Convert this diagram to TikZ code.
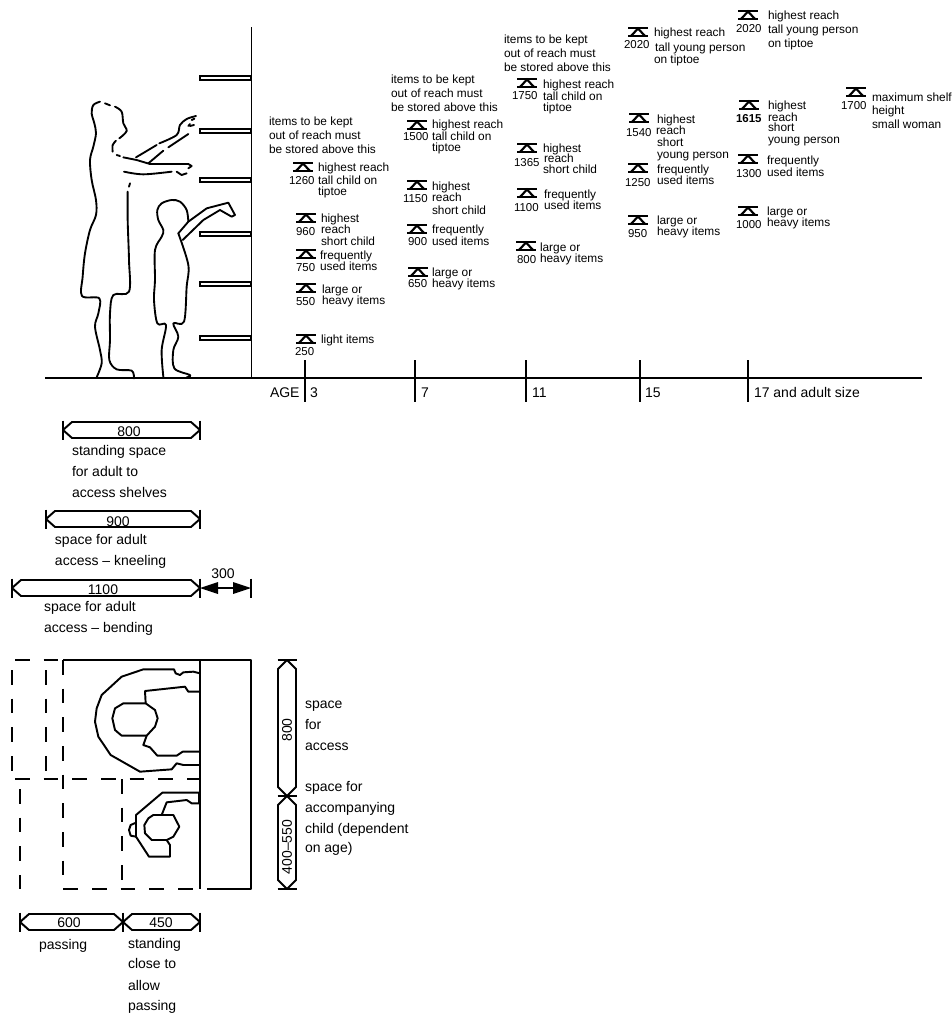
\documentclass[tikz,border=0pt]{standalone}
\usepackage{fontspec}
\setmainfont{Liberation Sans}
\newcounter{tn}
\tikzset{
 lbl/.style={anchor=base west,inner sep=0pt,outer sep=0pt,text=black},
 smalltxt/.style={lbl,font=\fontsize{8.9}{10}\selectfont},
 bigtxt/.style={lbl,font=\fontsize{10.5}{12}\selectfont},
 numtxt/.style={lbl,font=\fontsize{8.6}{10}\selectfont},
 ln/.style={line width=1.45pt,line join=round,black},
 dsh/.style={line width=1.45pt,dash pattern=on 11pt off 10.5pt},
 sil/.style={line width=1.4pt,line join=round,line cap=round,black},
 plan/.style={shift={(0,640)},x=.25pt,y=-.25pt},
 figs/.style={shift={(60,20)},x=.25pt,y=-.25pt},
}
\newcommand{\sm}[3]{\stepcounter{tn}\node[smalltxt] (t\thetn) at (#1,#2) {#3};}
\newcommand{\nm}[3]{\stepcounter{tn}\node[numtxt] (t\thetn) at (#1,#2) {#3};}
\newcommand{\bg}[3]{\stepcounter{tn}\node[bigtxt] (t\thetn) at (#1,#2) {#3};}
\newcommand{\bc}[3]{\stepcounter{tn}\node[bigtxt,anchor=base] (t\thetn) at (#1,#2) {#3};}
\newcommand{\cur}[1]{\draw[sil] plot[smooth,tension=.55] coordinates {#1};}
% level mark: x left, y top
\newcommand{\mk}[2]{%
 \draw[line width=1.8pt,line cap=butt] (#1,{#2+1}) -- ({#1+20},{#2+1});
 \draw[line width=1.8pt,line cap=butt] ({#1},{#2+9}) -- ({#1+20},{#2+9});
 \draw[line width=1.6pt,line join=miter] ({#1+3},{#2+9}) -- ({#1+10},{#2+1.5}) -- ({#1+17},{#2+9});}
% horizontal dimension bar
\newcommand{\hd}[3]{%
 \draw[ln] ({#1+9},{#3-8}) -- ({#2-9},{#3-8}) -- (#2,#3) -- ({#2-9},{#3+8}) -- ({#1+9},{#3+8}) -- (#1,#3) -- cycle;}
\newcommand{\htk}[2]{\draw[ln] (#1,{#2-9.5}) -- (#1,{#2+9.5});}
\newcommand{\vtk}[2]{\draw[ln] ({#1-9.5},#2) -- ({#1+9.5},#2);}
\newcommand{\vd}[3]{%
 \draw[ln] ({#3-9},{#1+9}) -- ({#3-9},{#2-9}) -- (#3,#2) -- ({#3+9},{#2-9}) -- ({#3+9},{#1+9}) -- (#3,#1) -- cycle;}
\begin{document}
\begin{tikzpicture}[x=.75pt,y=-.75pt]
\useasboundingbox (0,0) rectangle (952,1022);
% ground and wall
\draw[ln] (45,378) -- (922,378);
\draw[ln] (251.5,27) -- (251.5,378);
\foreach \y in {78,131,180,234,284,338}
  \draw[line width=1.05pt] (200,{\y-2}) rectangle (251,{\y+2});
\foreach \x in {305,415,526,640,748}
  \draw[ln] (\x,360) -- (\x,402);
\bg{270}{397}{AGE}\bg{310}{397}{3}\bg{421}{397}{7}\bg{532}{397}{11}\bg{645}{397}{15}\bg{754}{397}{17 and adult size}
% figures
\begin{scope}[figs]
\cur{(120,245) (100,255) (95,280) (103,310) (108,340) (100,380) (90,420) (95,480) (108,540) (108,585) (90,630) (75,700) (68,770) (66,828) (118,835) (115,880) (105,920) (120,990) (125,1030) (110,1072)}
\draw[sil] (135,250) -- (150,256);
\cur{(165,260) (185,275) (190,310) (200,333) (178,355)}
\cur{(168,362) (158,375) (158,395)}
\draw[sil] (170,405) -- (180,408);
\draw[sil] (190,412) -- (230,420) -- (270,432) -- (330,432) -- (385,432) -- (395,438) -- (385,445);
\cur{(192,455) (250,463) (335,455)}
\draw[sil] (350,455) -- (365,465) -- (380,460);
\cur{(228,412) (260,393) (290,375)}
\cur{(298,370) (350,345) (360,315) (380,297) (408,288)}
\draw[sil] (265,430) -- (310,392);
\draw[sil] (325,382) -- (385,342);
\draw[sil] (385,318) -- (390,312);
\draw[sil] (395,300) -- (403,296);
\draw[sil] (390,318) -- (402,315);
\draw[sil] (210,490) -- (207,500);
\cur{(203,515) (203,600) (207,720) (207,815) (160,825) (150,880) (150,960) (148,1020) (170,1048) (215,1052) (222,1075)}
% child
\cur{(355,640) (385,735) (380,800) (372,905) (340,910) (355,950) (340,990) (343,1045) (390,1065) (380,1072)}
\cur{(385,605) (380,570) (360,545) (335,540) (305,550) (292,570) (295,600) (310,630) (305,650) (285,690) (285,780) (282,840) (292,910) (318,915) (305,990) (310,1070)}
\draw[sil] (355,640) -- (385,605) -- (440,565) -- (505,548) -- (525,585) -- (515,590) -- (480,570) -- (430,600) -- (368,660);
\end{scope}
% column age 3
\sm{269}{125}{items to be kept}\sm{269}{139}{out of reach must}\sm{269}{153}{be stored above this}
\mk{293}{162}\sm{318}{171}{highest reach}\nm{289}{184}{1260}\sm{318}{184}{tall child on}\sm{318}{195}{tiptoe}
\mk{296}{213}\sm{321}{222}{highest}\nm{296}{235}{960}\sm{321}{233}{reach}\sm{321}{245}{short child}
\mk{296}{249}\sm{320}{259}{frequently}\nm{296}{271}{750}\sm{320}{270}{used items}
\mk{296}{283}\sm{322}{293}{large or}\nm{296}{305}{550}\sm{322}{304}{heavy items}
\mk{296}{334}\sm{321}{343}{light items}\nm{295}{355}{250}
% column age 7
\sm{391}{83}{items to be kept}\sm{391}{97}{out of reach must}\sm{391}{111}{be stored above this}
\mk{407}{120}\sm{432}{128}{highest reach}\nm{403}{140}{1500}\sm{432}{140}{tall child on}\sm{432}{151}{tiptoe}
\mk{407}{180}\sm{432}{190}{highest}\nm{403}{202}{1150}\sm{432}{201}{reach}\sm{432}{214}{short child}
\mk{407}{224}\sm{432}{233}{frequently}\nm{408}{245}{900}\sm{432}{245}{used items}
\mk{408}{267}\sm{432}{276}{large or}\nm{408}{287}{650}\sm{432}{287}{heavy items}
% column age 11
\sm{504}{43}{items to be kept}\sm{504}{57}{out of reach must}\sm{504}{71}{be stored above this}
\mk{517}{78}\sm{543}{88}{highest reach}\nm{512}{99}{1750}\sm{543}{100}{tall child on}\sm{543}{111}{tiptoe}
\mk{517}{143}\sm{543}{152}{highest}\nm{514}{166}{1365}\sm{544}{162}{reach}\sm{543}{173}{short child}
\mk{517}{188}\sm{544}{198}{frequently}\nm{514}{211}{1100}\sm{544}{209}{used items}
\mk{516}{241}\sm{540}{251}{large or}\nm{517}{263}{800}\sm{540}{262}{heavy items}
% column age 15
\mk{628}{27}\sm{654}{36}{highest reach}\nm{624}{48}{2020}\sm{655}{51}{tall young person}\sm{654}{63}{on tiptoe}
\mk{629}{113}\sm{657}{123}{highest}\nm{626}{136}{1540}\sm{656}{134}{reach}\sm{657}{146}{short}\sm{657}{158}{young person}
\mk{628}{163}\sm{657}{173}{frequently}\nm{625}{186}{1250}\sm{657}{184}{used items}
\mk{628}{215}\sm{657}{224}{large or}\nm{628}{237}{950}\sm{657}{235}{heavy items}
% column age 17
\mk{738}{10}\sm{768}{19}{highest reach}\nm{736}{32}{2020}\sm{768}{33}{tall young person}\sm{768}{47}{on tiptoe}
\mk{739}{100}\sm{768}{109}{highest}\nm{736}{122}{\bfseries 1615}\sm{768}{121}{reach}\sm{768}{131}{short}\sm{768}{143}{young person}
\mk{738}{154}\sm{767}{164}{frequently}\nm{736}{177}{1300}\sm{767}{176}{used items}
\mk{738}{206}\sm{767}{215}{large or}\nm{736}{228}{1000}\sm{767}{226}{heavy items}
\mk{846}{87}\sm{872}{101}{maximum shelf}\nm{841}{109}{1700}\sm{872}{114}{height}\sm{872}{128}{small woman}
% dimension bars
\hd{63}{200}{430}\htk{63}{430}\htk{200}{430}\bc{129}{436}{800}
\bg{72}{455}{standing space}\bg{72}{476}{for adult to}\bg{72}{497}{access shelves}
\hd{46}{200}{519}\htk{46}{519}\htk{200}{519}\bc{118}{526}{900}
\bg{55}{544}{space for adult}\bg{55}{565}{access – kneeling}
\hd{12}{200}{588}\htk{12}{588}\htk{200}{588}\bc{103}{594}{1100}
\bg{44}{611}{space for adult}\bg{44}{632}{access – bending}
\htk{251}{588}\draw[ln] (215,588) -- (235,588);
\fill (200,588) -- (218,582) -- (218,594) -- cycle;
\fill (251,588) -- (233,582) -- (233,594) -- cycle;
\bc{223}{578}{300}
% plan
\draw[ln] (63,660) -- (251,660) -- (251,889) -- (207,889);
\draw[ln] (200,660) -- (200,889);
\draw[dsh] (15,660) -- (63,660);
\draw[dsh] (12,670) -- (12,775);
\draw[dsh] (46,670) -- (46,775);
\draw[dsh] (63,660) -- (63,889) -- (200,889);
\draw[dsh] (15,779) -- (200,779);
\draw[dsh] (20,789) -- (20,889);
\draw[dsh] (122,779) -- (122,880);
\begin{scope}[plan]
\draw[ln] (600,100) -- (580,95) -- (550,97) -- (540,105) -- (527,100) -- (522,88) -- (430,88) -- (365,110) -- (305,165) -- (290,205) -- (285,245) -- (295,290) -- (332,345) -- (420,395) -- (515,388) -- (530,370) -- (550,375) -- (600,375);
\draw[ln] (600,155) -- (565,155) -- (555,140) -- (435,153) -- (437,190);
\draw[ln] (437,190) -- (370,190) -- (345,205) -- (337,235) -- (345,270) -- (365,287) -- (440,287) -- (465,260) -- (473,235) -- (465,210) -- cycle;
\draw[ln] (440,287) -- (430,315) -- (450,322) -- (472,347) -- (530,347) -- (548,335) -- (600,335);
\draw[ln] (600,458) -- (487,458) -- (408,525) -- (408,590) -- (447,650) -- (510,650) -- (510,615) -- (500,600);
\draw[ln] (600,490) -- (575,490) -- (560,480) -- (500,487) -- (485,525);
\draw[ln] (460,525) -- (520,525) -- (538,560) -- (520,590) -- (500,600) -- (455,600) -- (435,580) -- (433,555) -- (445,535) -- cycle;
\draw[ln] (408,548) -- (392,555) -- (387,570) -- (392,587) -- (408,590);
\draw[line width=2pt] (597,458) -- (597,490);
\end{scope}
% plan vertical dimensions
\vd{660}{796}{287}\vd{796}{889}{287}
\vtk{287}{660}\vtk{287}{796}\vtk{287}{889}
\stepcounter{tn}\node[bigtxt,anchor=center,rotate=90] (t\thetn) at (287,730) {800};
\stepcounter{tn}\node[bigtxt,anchor=center,rotate=90] (t\thetn) at (287,847) {400–550};
\bg{305}{708}{space}\bg{305}{729}{for}\bg{305}{750}{access}
\bg{305}{791}{space for}\bg{305}{812}{accompanying}\bg{305}{833}{child (dependent}\bg{305}{852}{on age)}
% bottom dimensions
\hd{20}{123}{922}\hd{123}{200}{922}\htk{20}{922}\htk{123}{922}\htk{200}{922}
\bc{69}{927}{600}\bc{161}{927}{450}
\bg{39}{949}{passing}\bg{128}{948}{standing}\bg{128}{968}{close to}\bg{128}{990}{allow}\bg{128}{1010}{passing}
\end{tikzpicture}
\end{document}
